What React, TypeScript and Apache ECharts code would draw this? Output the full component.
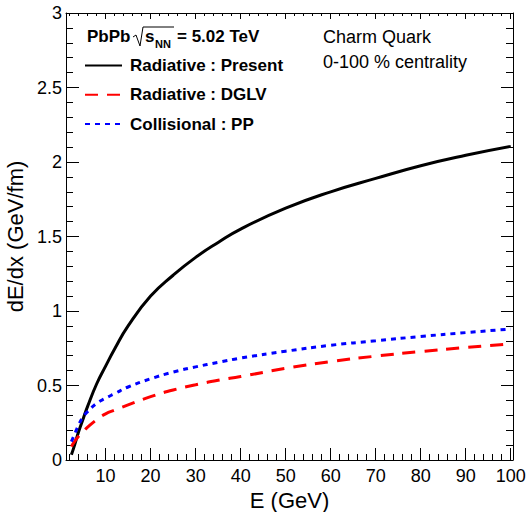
import React, { useEffect, useRef } from 'react';
import * as echarts from 'echarts';

const energy = [2.4, 3, 4, 5, 6, 8, 10, 12, 15, 20, 25, 30, 35, 40, 50, 60, 70, 80, 90, 100];
const radiativePresent = [0.035, 0.09, 0.19, 0.275, 0.36, 0.51, 0.63, 0.745, 0.9, 1.1, 1.24, 1.36, 1.46, 1.55, 1.69, 1.8, 1.89, 1.975, 2.045, 2.105];
const radiativeDGLV = [0.09, 0.12, 0.16, 0.19, 0.22, 0.27, 0.31, 0.335, 0.37, 0.425, 0.47, 0.505, 0.535, 0.56, 0.615, 0.66, 0.697, 0.728, 0.755, 0.78];
const collisionalPP = [0.123, 0.165, 0.235, 0.29, 0.325, 0.38, 0.415, 0.445, 0.49, 0.545, 0.59, 0.625, 0.655, 0.684, 0.73, 0.77, 0.8, 0.829, 0.855, 0.879];

const seriesNames = ['Radiative : Present', 'Radiative : DGLV', 'Collisional : PP'];
const xMajorTicks = [10, 20, 30, 40, 50, 60, 70, 80, 90, 100];
const xMinorTicks = [2, 4, 6, 8, 12, 14, 16, 18, 22, 24, 26, 28, 32, 34, 36, 38, 42, 44, 46, 48, 52, 54, 56, 58, 62, 64, 66, 68, 72, 74, 76, 78, 82, 84, 86, 88, 92, 94, 96, 98];

const FONT = '"Liberation Sans", Arial, Helvetica, sans-serif';
const X_MIN = 1.2;
const X_MAX = 100.5;

function pairs(xs: number[], ys: number[]) {
  return xs.map((x, i) => [x, ys[i]]);
}

export default function App() {
  const ref = useRef<HTMLDivElement>(null);
  useEffect(() => {
    if (!ref.current) return;
    const chart = echarts.init(ref.current, null, { renderer: 'svg' });
    const black = '#000';
    const xBase = {
      type: 'value' as const,
      min: X_MIN,
      max: X_MAX,
      splitLine: { show: false },
    };
    const yBase = {
      type: 'value' as const,
      min: 0,
      max: 3,
      interval: 0.5,
      splitLine: { show: false },
    };
    const lineCommon = {
      type: 'line' as const,
      xAxisIndex: 0,
      yAxisIndex: 0,
      smooth: 0.5,
      symbol: 'none',
    };
    chart.setOption({
      animation: false,
      backgroundColor: '#fff',
      grid: { left: 66, right: 14, top: 13, bottom: 52, containLabel: false, outerBoundsMode: 'none' },
      xAxis: [
        {
          ...xBase,
          position: 'bottom',
          name: 'E (GeV)',
          nameLocation: 'middle',
          nameGap: 27,
          nameTextStyle: { fontSize: 22, color: black, fontFamily: FONT, verticalAlign: 'top' },
          axisLine: { show: true, lineStyle: { color: black, width: 1 } },
          axisTick: { show: true, inside: true, length: 12, customValues: xMajorTicks, lineStyle: { color: black } },
          axisLabel: { show: true, customValues: xMajorTicks, fontSize: 18, color: black, fontFamily: FONT, margin: 7 },
        },
        {
          ...xBase,
          position: 'bottom',
          axisLine: { show: false },
          axisTick: { show: true, inside: true, length: 6, customValues: xMinorTicks, lineStyle: { color: black } },
          axisLabel: { show: false },
        },
        {
          ...xBase,
          position: 'top',
          axisLine: { show: true, lineStyle: { color: black, width: 1 } },
          axisTick: { show: true, inside: true, length: 6, customValues: xMajorTicks, lineStyle: { color: black } },
          axisLabel: { show: false },
        },
        {
          ...xBase,
          position: 'top',
          axisLine: { show: false },
          axisTick: { show: true, inside: true, length: 3, customValues: xMinorTicks, lineStyle: { color: black } },
          axisLabel: { show: false },
        },
      ],
      yAxis: [
        {
          ...yBase,
          position: 'left',
          name: 'dE/dx (GeV/fm)',
          nameLocation: 'middle',
          nameGap: 33,
          nameTextStyle: { fontSize: 22, color: black, fontFamily: FONT },
          axisLine: { show: true, lineStyle: { color: black, width: 1 } },
          axisTick: { show: true, inside: true, length: 13, lineStyle: { color: black } },
          minorTick: { show: true, splitNumber: 5, length: 7, lineStyle: { color: black } },
          axisLabel: { show: true, fontSize: 18, color: black, fontFamily: FONT, margin: 4 },
        },
        {
          ...yBase,
          position: 'right',
          axisLine: { show: true, lineStyle: { color: black, width: 1 } },
          axisTick: { show: true, inside: true, length: 12, lineStyle: { color: black } },
          minorTick: { show: true, splitNumber: 5, length: 7, lineStyle: { color: black } },
          axisLabel: { show: false },
        },
      ],
      legend: {
        show: true,
        orient: 'vertical',
        left: 84,
        top: 57,
        padding: 0,
        itemWidth: 37,
        itemHeight: 17,
        itemGap: 12.3,
        data: seriesNames,
        itemStyle: { opacity: 0 },
        textStyle: { fontSize: 17, fontWeight: 'bold', color: black, fontFamily: FONT, padding: [0, 0, 0, 3] },
      },
      series: [
        {
          ...lineCommon,
          name: seriesNames[0],
          data: pairs(energy, radiativePresent),
          lineStyle: { color: '#000000', width: 3, type: 'solid' },
          itemStyle: { color: '#000000' },
        },
        {
          ...lineCommon,
          name: seriesNames[1],
          data: pairs(energy, radiativeDGLV),
          lineStyle: { color: '#ff0000', width: 3, type: [13, 9] },
          itemStyle: { color: '#ff0000' },
        },
        {
          ...lineCommon,
          name: seriesNames[2],
          data: pairs(energy, collisionalPP),
          lineStyle: { color: '#0000ff', width: 3, type: [5, 5] },
          itemStyle: { color: '#0000ff' },
        },
      ],
      graphic: [
        { type: 'text', left: 87, top: 28, style: { text: 'PbPb', fontSize: 17, fontWeight: 'bold', fill: black, fontFamily: FONT } },
        {
          type: 'polyline',
          shape: { points: [[133, 37], [136, 35], [140, 46], [143, 27], [174, 27]] },
          style: { stroke: black, lineWidth: 1, fill: 'none' },
        },
        { type: 'text', left: 145, top: 28, style: { text: 's', fontSize: 17, fontWeight: 'bold', fill: black, fontFamily: FONT } },
        { type: 'text', left: 155, top: 38, style: { text: 'NN', fontSize: 11, fontWeight: 'bold', fill: black, fontFamily: FONT } },
        { type: 'text', left: 177, top: 28, style: { text: '= 5.02 TeV', fontSize: 17, fontWeight: 'bold', fill: black, fontFamily: FONT } },
        { type: 'text', left: 323, top: 28, style: { text: 'Charm Quark', fontSize: 18, fill: black, fontFamily: FONT } },
        { type: 'text', left: 323, top: 53, style: { text: '0-100 % centrality', fontSize: 18, fill: black, fontFamily: FONT } },
      ],
    });
    return () => chart.dispose();
  }, []);
  return <div ref={ref} style={{ position: 'absolute', left: 0, top: 0, width: 527, height: 512 }} />;
}
